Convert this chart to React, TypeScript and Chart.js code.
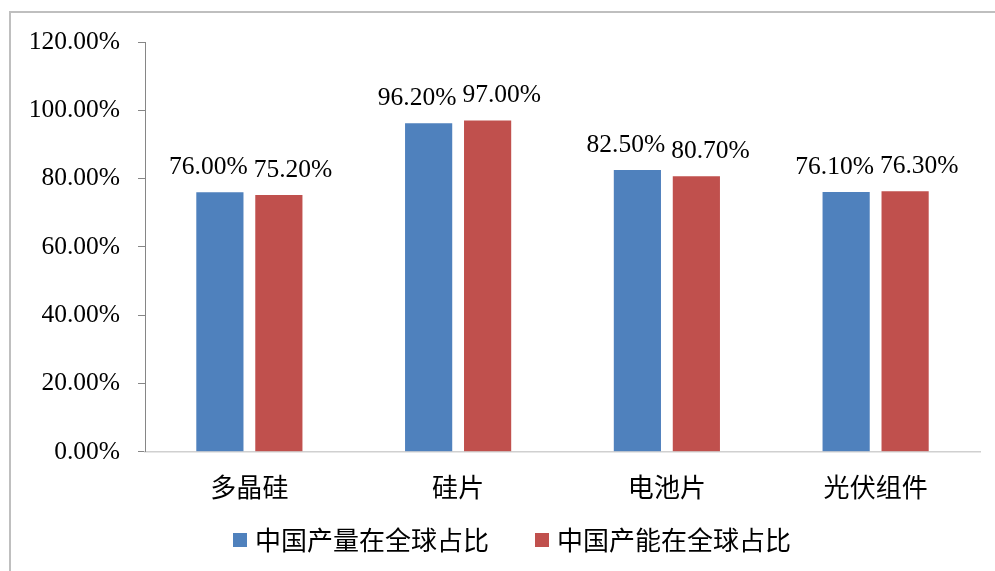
import React, { useEffect, useRef } from "react";
import { Chart, registerables } from "chart.js";

Chart.register(...registerables);

const categories = ["多晶硅", "硅片", "电池片", "光伏组件"];
const seriesNames = ["中国产量在全球占比", "中国产能在全球占比"];
const production = [76.0, 96.2, 82.5, 76.1];
const capacity = [75.2, 97.0, 80.7, 76.3];
const colors = ["#4F81BD", "#C0504D"];
const yMin = 0;
const yMax = 120;
const yStep = 20;

const SERIF = "'Liberation Serif', 'Times New Roman', serif";
const CJK = "'Noto Sans CJK SC', 'Noto Sans CJK JP', sans-serif";

const framePlugin = {
  id: "frame",
  beforeDraw(chart: any) {
    const ctx = chart.ctx;
    ctx.save();
    ctx.fillStyle = "#ffffff";
    ctx.fillRect(0, 0, chart.width, chart.height);
    ctx.strokeStyle = "#bfbfbf";
    ctx.lineWidth = 2;
    ctx.strokeRect(10, 12, chart.width + 100, chart.height + 100);
    ctx.restore();
  },
};

const labelPlugin = {
  id: "barLabels",
  afterDatasetsDraw(chart: any) {
    const ctx = chart.ctx;
    ctx.save();
    ctx.font = `25.5px ${SERIF}`;
    ctx.fillStyle = "#000000";
    ctx.textAlign = "center";
    ctx.textBaseline = "middle";
    const n = chart.data.labels.length;
    for (let i = 0; i < n; i++) {
      const items: any[] = [];
      chart.data.datasets.forEach((ds: any, di: number) => {
        const el = chart.getDatasetMeta(di).data[i];
        const txt = Number(ds.data[i]).toFixed(2) + "%";
        items.push({ x: el.x, y: el.y - 25, txt, w: ctx.measureText(txt).width });
      });
      for (let k = 0; k < items.length - 1; k++) {
        const a = items[k];
        const b = items[k + 1];
        const need = (a.w + b.w) / 2 + 6;
        const sep = b.x - a.x;
        if (sep < need) {
          const d = need - sep;
          a.x -= d * 0.45;
          b.x += d * 0.55;
        }
      }
      items.forEach((it) => ctx.fillText(it.txt, it.x, it.y));
    }
    ctx.restore();
  },
};

const legendPlugin = {
  id: "customLegend",
  afterDraw(chart: any) {
    const ctx = chart.ctx;
    ctx.save();
    ctx.font = `26px ${CJK}`;
    ctx.textBaseline = "middle";
    ctx.textAlign = "left";
    const box = 14;
    const gapText = 8;
    const gapItem = 46;
    const ds = chart.data.datasets;
    const widths = ds.map((d: any) => box + gapText + ctx.measureText(d.label).width);
    const total = widths.reduce((s: number, w: number) => s + w, 0) + gapItem * (ds.length - 1);
    const cx = 512;
    const cy = 540;
    let x = cx - total / 2;
    ds.forEach((d: any, i: number) => {
      ctx.fillStyle = d.backgroundColor;
      ctx.fillRect(x, cy - box / 2, box, box);
      ctx.fillStyle = "#000000";
      ctx.fillText(d.label, x + box + gapText, cy);
      x += widths[i] + gapItem;
    });
    ctx.restore();
  },
};

export default function App() {
  const ref = useRef<HTMLCanvasElement | null>(null);
  useEffect(() => {
    document.body.style.margin = "0";
    if (!ref.current) return;
    const chart = new Chart(ref.current, {
      type: "bar",
      data: {
        labels: categories,
        datasets: [
          {
            label: seriesNames[0],
            data: production,
            backgroundColor: colors[0],
            categoryPercentage: 0.565,
            barPercentage: 0.8,
          },
          {
            label: seriesNames[1],
            data: capacity,
            backgroundColor: colors[1],
            categoryPercentage: 0.565,
            barPercentage: 0.8,
          },
        ],
      },
      options: {
        animation: false,
        responsive: false,
        layout: { padding: { left: 0, right: 15, top: 42, bottom: 48 } },
        plugins: {
          tooltip: { enabled: false },
          legend: { display: false },
        },
        scales: {
          x: {
            grid: { display: false, drawTicks: false },
            border: { color: "#d0d0d0", width: 1.5 },
            ticks: {
              color: "#000000",
              padding: 20,
              font: { family: CJK, size: 26 },
            },
          },
          y: {
            min: yMin,
            max: yMax,
            afterFit(scale: any) {
              scale.width = 145;
            },
            grid: {
              drawOnChartArea: false,
              drawTicks: true,
              tickLength: 7,
              color: "#868686",
            },
            border: { color: "#868686", width: 1 },
            ticks: {
              stepSize: yStep,
              padding: 18,
              color: "#000000",
              font: { family: SERIF, size: 25.5 },
              callback: (v: any) => Number(v).toFixed(2) + "%",
            },
          },
        },
      },
      plugins: [framePlugin, labelPlugin, legendPlugin],
    });
    return () => chart.destroy();
  }, []);
  return (
    <div style={{ width: 995, height: 571 }}>
      <canvas ref={ref} width={995} height={571} style={{ display: "block" }} />
    </div>
  );
}
